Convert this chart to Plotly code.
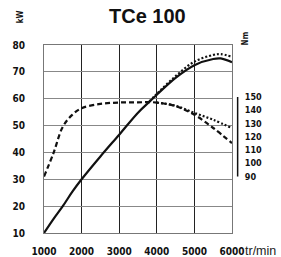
import plotly.graph_objects as go

# Power (kW) – solid
rpm_power = [1000, 1250, 1500, 1750, 2000, 2500, 3000, 3500, 3800, 4000, 4500, 5000, 5500, 5700, 6000]
power_kw = [10, 15.2, 20, 25.3, 30, 38.5, 46.6, 54.8, 58.8, 61.5, 67.8, 72.5, 74.8, 75.0, 73.6]

# Power (kW) – dotted variant
rpm_power2 = [3800, 4000, 4500, 5000, 5500, 5700, 6000]
power2_kw = [59.0, 61.8, 68.4, 73.8, 76.3, 76.6, 75.6]

# Torque (Nm) – dashed
rpm_torque = [1000, 1250, 1500, 1750, 2000, 2500, 3000, 3500, 4000, 4500, 5000, 5500, 6000]
torque_nm = [90, 107.5, 127.5, 136.5, 141.5, 144.8, 145.8, 146, 145.8, 143, 136.6, 126.6, 115.2]

# Torque (Nm) – dotted variant
rpm_torque2 = [4000, 4500, 5000, 5500, 6000]
torque2_nm = [145.8, 143.4, 138, 132.8, 126.5]

x_ticks = [1000, 2000, 3000, 4000, 5000, 6000]
kw_ticks = [10, 20, 30, 40, 50, 60, 70, 80]
nm_ticks = [90, 100, 110, 120, 130, 140, 150]

bold = "DejaVu Sans Condensed, Liberation Sans Narrow, Arial Narrow, sans-serif"

fig = go.Figure()
fig.add_trace(go.Scatter(x=rpm_power, y=power_kw, mode="lines",
                         line=dict(color="#111", width=2.2, shape="spline"), yaxis="y"))
fig.add_trace(go.Scatter(x=rpm_power2, y=power2_kw, mode="lines",
                         line=dict(color="#111", width=2.2, dash="2px,2px", shape="spline"), yaxis="y"))
fig.add_trace(go.Scatter(x=rpm_torque, y=torque_nm, mode="lines",
                         line=dict(color="#111", width=2.2, dash="5px,3px", shape="spline"), yaxis="y2"))
fig.add_trace(go.Scatter(x=rpm_torque2, y=torque2_nm, mode="lines",
                         line=dict(color="#111", width=2.2, dash="2px,2px", shape="spline"), yaxis="y2"))

fig.update_layout(
    width=281, height=257,
    margin=dict(l=44, r=49, t=45, b=24, autoexpand=False),
    paper_bgcolor="white", plot_bgcolor="white",
    showlegend=False,
    xaxis=dict(range=[1000, 6000], tickvals=x_ticks, ticktext=[str(v) for v in x_ticks],
               showgrid=True, gridcolor="#222", gridwidth=1, automargin=False,
               showline=True, linecolor="#777", linewidth=1, mirror=True,
               zeroline=False, ticks="outside", ticklen=9, tickcolor="rgba(0,0,0,0)",
               tickfont=dict(family=bold, size=10, color="#111", weight="bold")),
    yaxis=dict(range=[10, 80], tickvals=kw_ticks, ticktext=[str(v) for v in kw_ticks],
               showgrid=True, gridcolor="#888", gridwidth=1, automargin=False,
               showline=True, linecolor="#777", linewidth=1, mirror=True,
               zeroline=False, ticks="outside", ticklen=16, tickcolor="rgba(0,0,0,0)",
               tickfont=dict(family=bold, size=10, color="#111", weight="bold")),
    yaxis2=dict(range=[47.4, 189.2], overlaying="y", side="right", automargin=False,
                tickvals=nm_ticks, ticktext=[str(v) for v in nm_ticks],
                showgrid=False, zeroline=False, showline=False,
                ticks="outside", ticklen=10, tickcolor="rgba(0,0,0,0)",
                tickfont=dict(family=bold, size=9, color="#111", weight="bold")),
)

fig.add_shape(type="line", xref="paper", yref="y2", x0=1.03, x1=1.03, y0=90, y1=150,
              line=dict(color="#111", width=1.5))

common = dict(xref="paper", yref="paper", showarrow=False, xanchor="center", yanchor="middle")
fig.add_annotation(text="<b>TCe 100</b>", x=0.55, y=1.152,
                   font=dict(family="Liberation Sans, Arial, sans-serif", size=20, color="#111"), **common)
fig.add_annotation(text="<b>kW</b>", x=-0.128, y=1.152, textangle=-90,
                   font=dict(family=bold, size=8, color="#111"), **common)
fig.add_annotation(text="<b>Nm</b>", x=1.069, y=1.035, textangle=-90,
                   font=dict(family=bold, size=8, color="#111"), **common)
fig.add_annotation(text="tr/min", x=1.152, y=-0.097,
                   font=dict(family="Liberation Sans, Arial, sans-serif", size=12.5, color="#222"), **common)

fig.write_html("out.html", config={"displayModeBar": False},
               post_script="document.body.style.margin='0px';document.body.style.padding='0px';")
